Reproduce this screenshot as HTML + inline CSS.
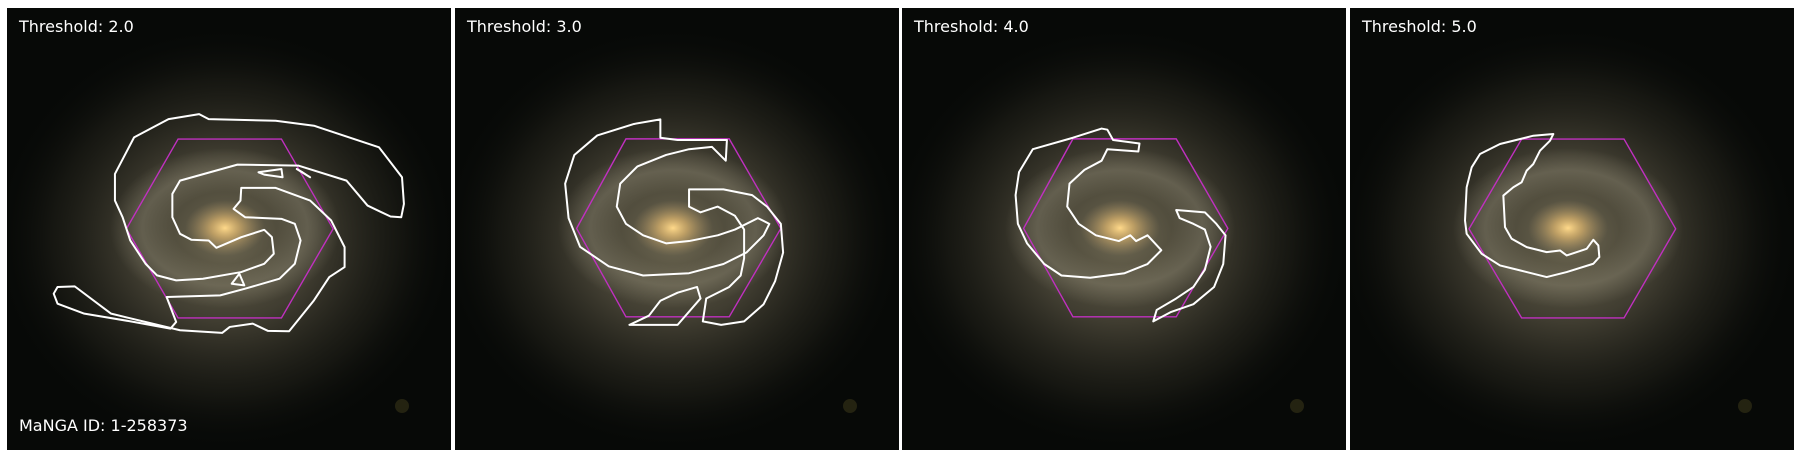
<!DOCTYPE html>
<html><head><meta charset="utf-8">
<style>
html,body{margin:0;padding:0;background:#fff;width:1800px;height:457px;overflow:hidden;font-family:"Liberation Sans","DejaVu Sans",sans-serif}
.panel{position:absolute;top:8px;width:444px;height:442px;background:#070907;overflow:hidden}
.panel svg{position:absolute;left:0;top:0;width:444px;height:442px}
.lbl{position:absolute;color:#fff;font-size:16px;font-family:"DejaVu Sans","Liberation Sans",sans-serif}
</style></head>
<body>
<div class="panel" id="p0" style="left:7px"></div>
<div class="panel" id="p1" style="left:455px"></div>
<div class="panel" id="p2" style="left:902px"></div>
<div class="panel" id="p3" style="left:1350px"></div>
<script>
// thresholds
const thresholds = ["2.0","3.0","4.0","5.0"];
// view boxes (coordinate frames in which contours were traced)
const frames = [[18,21,1160,1329],[396,7,387,385],[786,7,387,385],[150,21,1332,1329]];
const hexes = [
 [[465,415],[735,415],[870,685],[735,953],[465,953],[330,685]],
 [[545,121],[635,121],[680,199],[635,276],[545,276],[502,199]],
 [[935,121],[1025,121],[1070,199],[1025,276],[935,276],[892,199]],
 [[665,415],[972,415],[1127,685],[972,953],[665,953],[507,685]]
];
const contours = [
 [
  [[350,410],[440,355],[520,340],[545,355],[720,360],[820,375],[990,440],[1050,530],[1055,610],[1048,650],[1020,648],[960,615],[905,540],[780,495],[620,492],[470,540],[450,580],[450,650],[470,700],[500,718],[545,720],[565,742],[630,710],[690,688],[710,710],[715,760],[690,790],[630,815],[530,835],[460,840],[410,825],[380,790],[340,720],[320,650],[300,600],[300,520]],
  [[630,562],[720,562],[810,600],[865,660],[900,740],[900,800],[860,830],[820,900],[755,993],[700,992],[660,970],[600,980],[580,998],[470,990],[290,940],[195,858],[150,860],[140,880],[150,910],[220,940],[350,965],[445,985],[460,965],[435,890],[575,885],[640,865],[730,835],[770,790],[785,720],[770,670],[735,655],[640,650],[610,625],[628,600]],
  [[675,515],[735,505],[738,530],[690,522]],
  [[775,505],[810,530],[790,515]],
  [[605,850],[625,820],[638,855]]
 ],
 [
  [[575,104],[552,108],[520,118],[500,135],[492,160],[495,190],[505,215],[530,232],[560,240],[600,238],[630,230],[650,220],[665,205],[670,195],[660,190],[640,200],[625,205],[600,210],[580,212],[560,205],[545,195],[537,180],[540,160],[555,145],[580,135],[600,130],[620,128],[632,140],[633,122],[590,122],[575,120]],
  [[600,165],[630,165],[655,170],[668,180],[680,195],[682,220],[675,245],[665,265],[648,280],[628,283],[612,280],[615,260],[635,250],[645,240],[648,225],[648,200],[640,188],[625,180],[610,185],[600,180]],
  [[548,283],[590,283],[610,260],[607,250],[590,255],[575,262],[565,275]]
 ],
 [
  [[960,112],[935,120],[900,130],[888,150],[885,170],[887,195],[895,212],[910,230],[925,240],[950,242],[980,238],[1000,230],[1012,218],[1000,205],[990,210],[985,205],[975,210],[955,205],[940,195],[930,180],[932,160],[945,148],[960,140],[965,130],[992,132],[993,125],[970,122],[965,113]],
  [[1025,183],[1050,185],[1060,195],[1068,205],[1066,230],[1058,250],[1040,265],[1020,272],[1005,280],[1008,270],[1025,260],[1040,250],[1050,235],[1055,215],[1050,200],[1040,195],[1028,190]]
 ],
 [
  [[760,400],[700,405],[600,430],[540,460],[515,500],[500,560],[495,660],[500,700],[545,760],[600,795],[660,810],[740,830],[800,815],[880,790],[898,770],[895,735],[880,718],[860,745],[800,765],[780,750],[740,755],[680,740],[635,715],[615,680],[610,585],[640,560],[665,545],[680,510],[700,490],[720,450],[750,420]]
 ]
];
const NS="http://www.w3.org/2000/svg";
for(let i=0;i<4;i++){
  const p=document.getElementById('p'+i);
  const g=document.createElementNS(NS,'svg');
  g.setAttribute('viewBox','0 0 444 442');
  g.setAttribute('preserveAspectRatio','none');
  g.innerHTML=`<defs>
   <radialGradient id="halo${i}" cx="0.5" cy="0.5" r="0.5"><stop offset="0" stop-color="#6e6852"/><stop offset="0.4" stop-color="#4a4638" stop-opacity="0.85"/><stop offset="0.75" stop-color="#25241c" stop-opacity="0.5"/><stop offset="1" stop-color="#0b0c0a" stop-opacity="0"/></radialGradient>
   <radialGradient id="arm${i}" cx="0.5" cy="0.5" r="0.5"><stop offset="0.45" stop-color="#a59f86" stop-opacity="0"/><stop offset="0.72" stop-color="#9c9680" stop-opacity="0.35"/><stop offset="1" stop-color="#9c9680" stop-opacity="0"/></radialGradient>
   <radialGradient id="bulge${i}" cx="0.5" cy="0.5" r="0.5"><stop offset="0" stop-color="#ffd98a"/><stop offset="0.35" stop-color="#d2ad6a" stop-opacity="0.8"/><stop offset="1" stop-color="#9a8660" stop-opacity="0"/></radialGradient>
  </defs>
  <ellipse cx="218" cy="230" rx="230" ry="210" fill="url(#halo${i})"/>
  <ellipse cx="218" cy="220" rx="115" ry="80" fill="url(#arm${i})"/>
  <ellipse cx="218" cy="220" rx="40" ry="28" fill="url(#bulge${i})"/>
  <circle cx="395" cy="398" r="7" fill="#4a4420" opacity="0.45"/>`;
  
  
  p.appendChild(g);
  const f=frames[i];
  const s=document.createElementNS(NS,'svg');
  s.setAttribute('viewBox',f.join(' '));
  s.setAttribute('preserveAspectRatio','none');
  const hx=document.createElementNS(NS,'polygon');
  hx.setAttribute('points',hexes[i].map(q=>q.join(',')).join(' '));
  hx.setAttribute('fill','none');hx.setAttribute('stroke','#c030c0');
  hx.setAttribute('stroke-width','1.4');
  hx.setAttribute('vector-effect','non-scaling-stroke');
  
  
  s.appendChild(hx);
  contours[i].forEach(c=>{
    const pl=document.createElementNS(NS,'polygon');
    pl.setAttribute('points',c.map(q=>q.join(',')).join(' '));
    pl.setAttribute('fill','none');pl.setAttribute('stroke','#ffffff');
    pl.setAttribute('stroke-width','2');
    pl.setAttribute('vector-effect','non-scaling-stroke');
    pl.setAttribute('stroke-linejoin','round');
    
    
    s.appendChild(pl);
  });
  p.appendChild(s);
  const t=document.createElement('div');
  t.className='lbl';t.style.left='12px';t.style.top='9px';
  t.textContent='Threshold: '+thresholds[i];
  
  
  p.appendChild(t);
  if(i===0){
    const m=document.createElement('div');
    m.className='lbl';m.style.left='12px';m.style.top='408px';
    m.textContent='MaNGA ID: 1-258373';
    
    
    p.appendChild(m);
  }
}
</script>
</body></html>
